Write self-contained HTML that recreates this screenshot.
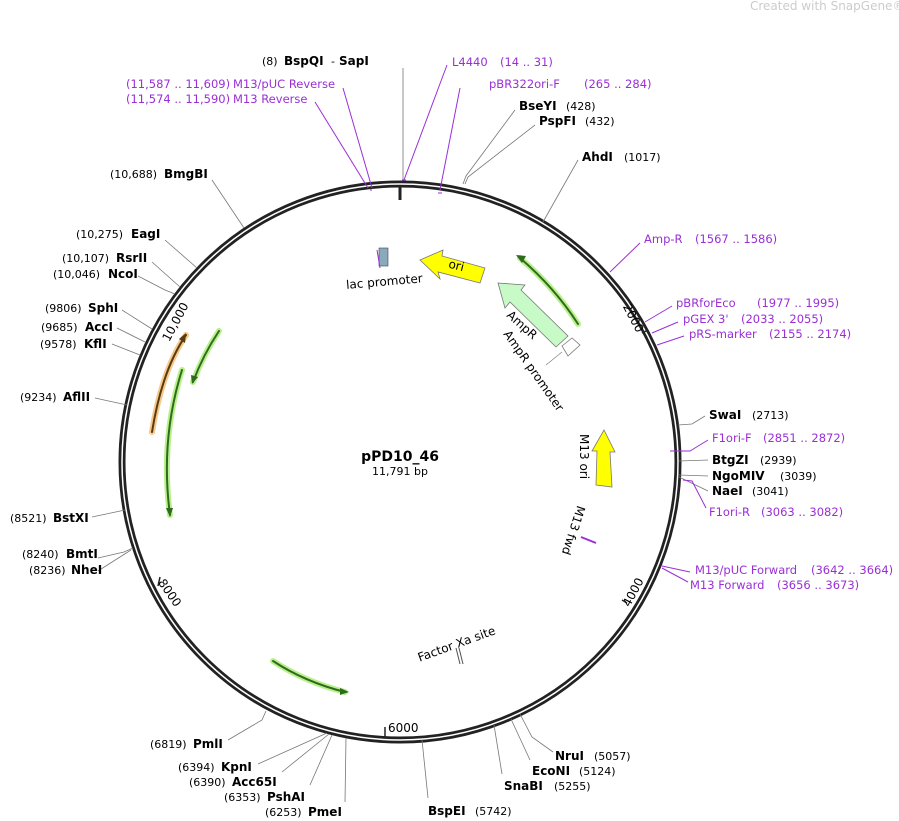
<!DOCTYPE html>
<html><head><meta charset="utf-8"><style>
html,body{margin:0;padding:0;background:#fff;}
svg{display:block;font-family:"DejaVu Sans","Liberation Sans",sans-serif;}
.b{font-weight:bold;font-size:12px;fill:#000}
.n{font-size:11px;fill:#000}
.p{font-size:11.5px;fill:#9a2fd6}
.l{stroke:#777;stroke-width:0.8;fill:none}
.lp{stroke:#9a2fd6;stroke-width:1;fill:none}
</style></head><body>
<svg width="899" height="821" viewBox="0 0 899 821" xmlns="http://www.w3.org/2000/svg">
<text x="750" y="10" font-size="12" fill="#ccc">Created with SnapGene®</text>
<circle cx="400" cy="462" r="278" fill="none" stroke="#222" stroke-width="7"/>
<circle cx="400" cy="462" r="278" fill="none" stroke="#fff" stroke-width="1.5"/>
<line x1="400" y1="186" x2="400" y2="200" stroke="#222" stroke-width="3"/>
<line x1="648" y1="330" x2="642" y2="333" stroke="#222" stroke-width="1.5"/>
<text x="612" y="312" font-size="12" transform="rotate(62 622 318)">2000</text>
<line x1="627" y1="603" x2="622" y2="600" stroke="#222" stroke-width="1.5"/>
<text x="622" y="605" font-size="12" transform="rotate(-62 628 600)">4000</text>
<line x1="385" y1="727" x2="385" y2="738" stroke="#222" stroke-width="1.5"/>
<text x="388" y="732" font-size="12">6000</text>
<line x1="160" y1="577" x2="158" y2="586" stroke="#222" stroke-width="1.5"/>
<text x="160" y="586" font-size="12" transform="rotate(55 162 582)">8000</text>
<text x="163" y="340" font-size="12" transform="rotate(-62 168 336)">10,000</text>
<text x="400" y="461" text-anchor="middle" font-weight="bold" font-size="14">pPD10_46</text>
<text x="400" y="475" text-anchor="middle" font-size="11">11,791 bp</text>
<g stroke-linecap="round">
<path d="M578 324 Q555 288 520 258" stroke="#b9f08a" stroke-width="6" fill="none"/>
<path d="M578 324 Q555 288 520 258" stroke="#2e6b1e" stroke-width="2" fill="none"/>
<path d="M516 255 l10 1 l-4 7z" fill="#2e6b1e"/>
<path d="M152 432 Q162 370 186 335" stroke="#f5c98a" stroke-width="6" fill="none"/>
<path d="M152 432 Q162 370 186 335" stroke="#5a3a10" stroke-width="2" fill="none"/>
<path d="M186 333 l-1 10 l-6 -4z" fill="#5a3a10"/>
<path d="M182 370 Q160 440 170 515" stroke="#b9f08a" stroke-width="6" fill="none"/>
<path d="M182 370 Q160 440 170 515" stroke="#2e6b1e" stroke-width="2" fill="none"/>
<path d="M170 517 l-4 -9 l7 0z" fill="#2e6b1e"/>
<path d="M219 331 Q203 355 193 382" stroke="#b9f08a" stroke-width="6" fill="none"/>
<path d="M219 331 Q203 355 193 382" stroke="#2e6b1e" stroke-width="2" fill="none"/>
<path d="M192 384 l-1 -9 l7 2z" fill="#2e6b1e"/>
<path d="M273 661 Q305 682 345 692" stroke="#b9f08a" stroke-width="6" fill="none"/>
<path d="M273 661 Q305 682 345 692" stroke="#2e6b1e" stroke-width="2" fill="none"/>
<path d="M349 692 l-9 -4 l0 7z" fill="#2e6b1e"/>
</g>
<polygon points="420,260 443,250 442,256 485,268 480,283 438,272 440,279" fill="#ffff00" stroke="#777" stroke-width="0.8"/>
<text x="448" y="270" font-size="12" transform="rotate(14 458 268)">ori</text>
<polygon points="498,283 525,285 521,290 568,336 556,347 510,302 505,308" fill="#c8fac8" stroke="#777" stroke-width="0.8"/>
<polygon points="562,346 572,338 580,345 568,356" fill="#fff" stroke="#777" stroke-width="0.8"/>
<polygon points="604,430 615,452 610,452 612,487 596,485 597,451 592,451" fill="#ffff00" stroke="#777" stroke-width="0.8"/>
<text x="506" y="316" font-size="12" transform="rotate(42 506 316)">AmpR</text>
<text x="503" y="334" font-size="12" transform="rotate(55 503 334)">AmpR promoter</text>
<line x1="546" y1="365" x2="562" y2="352" stroke="#777" stroke-width="0.6"/>
<text x="580" y="434" font-size="12" transform="rotate(90 580 434)">M13 ori</text>
<text x="580" y="503" font-size="12" transform="rotate(108 578 503)">M13 fwd</text>
<line x1="581" y1="537" x2="596" y2="543" stroke="#9a2fd6" stroke-width="2"/>
<rect x="379" y="248" width="9" height="18" fill="#8ab" stroke="#445" stroke-width="0.6"/>
<line x1="377" y1="250" x2="380" y2="268" stroke="#9a2fd6" stroke-width="1"/>
<text x="346" y="286" font-size="12" transform="rotate(-5 380 282)">lac promoter</text>
<text x="414" y="650" font-size="12" transform="rotate(-20 450 640)">Factor Xa site</text>
<line x1="456" y1="648" x2="460" y2="664" stroke="#555" stroke-width="1"/>
<line x1="459" y1="648" x2="463" y2="664" stroke="#555" stroke-width="1"/>
<line class="l" x1="403" y1="180" x2="403" y2="68"/>
<text x="262" y="65" class="n">(8)</text><text x="284" y="65" class="b">BspQI</text><text x="331" y="65" class="n">-</text><text x="339" y="65" class="b">SapI</text>
<line class="lp" x1="404" y1="180" x2="447" y2="65"/><line class="lp" x1="402" y1="180" x2="406" y2="180"/>
<text x="452" y="66" class="p">L4440</text><text x="500" y="66" class="p" font-size="11">(14 .. 31)</text>
<line class="lp" x1="440" y1="190" x2="460" y2="88"/><line class="lp" x1="438" y1="193" x2="442" y2="193"/>
<text x="489" y="88" class="p">pBR322ori-F</text><text x="584" y="88" class="p" font-size="11">(265 .. 284)</text>
<line class="lp" x1="372" y1="188" x2="343" y2="88"/><line class="lp" x1="370" y1="190" x2="372" y2="190"/>
<line class="lp" x1="368" y1="188" x2="315" y2="102"/>
<text x="126" y="88" class="p" font-size="11">(11,587 .. 11,609)</text><text x="233" y="88" class="p">M13/pUC Reverse</text>
<text x="126" y="103" class="p" font-size="11">(11,574 .. 11,590)</text><text x="233" y="103" class="p">M13 Reverse</text>
<polyline class="l" points="463,184 466,176 515,110"/><polyline class="l" points="465,184 468,177 535,125"/>
<text x="519" y="110" class="b">BseYI</text><text x="566" y="110" class="n">(428)</text>
<text x="539" y="125" class="b">PspFI</text><text x="585" y="125" class="n">(432)</text>
<line class="l" x1="543" y1="222" x2="578" y2="160"/>
<text x="582" y="161" class="b">AhdI</text><text x="624" y="161" class="n">(1017)</text>
<line class="lp" x1="610" y1="272" x2="640" y2="243"/>
<text x="644" y="243" class="p">Amp-R</text><text x="695" y="243" class="p" font-size="11">(1567 .. 1586)</text>
<line class="lp" x1="645" y1="322" x2="672" y2="306"/><line class="lp" x1="652" y1="333" x2="678" y2="322"/><line class="lp" x1="657" y1="345" x2="684" y2="336"/>
<text x="676" y="307" class="p">pBRforEco</text><text x="757" y="307" class="p" font-size="11">(1977 .. 1995)</text>
<text x="683" y="323" class="p">pGEX 3'</text><text x="741" y="323" class="p" font-size="11">(2033 .. 2055)</text>
<text x="689" y="338" class="p">pRS-marker</text><text x="769" y="338" class="p" font-size="11">(2155 .. 2174)</text>
<polyline class="l" points="678,425 692,424 705,416"/>
<text x="709" y="419" class="b">SwaI</text><text x="752" y="419" class="n">(2713)</text>
<polyline class="lp" points="670,451 690,451 708,440"/>
<text x="712" y="442" class="p">F1ori-F</text><text x="763" y="442" class="p" font-size="11">(2851 .. 2872)</text>
<polyline class="l" points="679,461 708,460"/>
<text x="712" y="464" class="b">BtgZI</text><text x="760" y="464" class="n">(2939)</text>
<polyline class="l" points="679,475 708,476"/><polyline class="l" points="679,477 708,491"/>
<text x="712" y="480" class="b">NgoMIV</text><text x="780" y="480" class="n">(3039)</text>
<text x="712" y="495" class="b">NaeI</text><text x="752" y="495" class="n">(3041)</text>
<polyline class="lp" points="683,480 692,481 706,508"/>
<text x="709" y="516" class="p">F1ori-R</text><text x="761" y="516" class="p" font-size="11">(3063 .. 3082)</text>
<line class="lp" x1="662" y1="566" x2="690" y2="572"/><line class="lp" x1="662" y1="568" x2="688" y2="582"/>
<text x="695" y="574" class="p">M13/pUC Forward</text><text x="811" y="574" class="p" font-size="11">(3642 .. 3664)</text>
<text x="690" y="589" class="p">M13 Forward</text><text x="777" y="589" class="p" font-size="11">(3656 .. 3673)</text>
<polyline class="l" points="520,714 532,737 553,752"/>
<text x="555" y="760" class="b">NruI</text><text x="594" y="760" class="n">(5057)</text>
<polyline class="l" points="511,719 530,760"/>
<text x="532" y="775" class="b">EcoNI</text><text x="579" y="775" class="n">(5124)</text>
<polyline class="l" points="494,725 502,774"/>
<text x="504" y="790" class="b">SnaBI</text><text x="554" y="790" class="n">(5255)</text>
<polyline class="l" points="422,740 428,798"/>
<text x="428" y="815" class="b">BspEI</text><text x="475" y="815" class="n">(5742)</text>
<polyline class="l" points="346,738 345,802"/>
<text x="265" y="816" class="n">(6253)</text><text x="308" y="816" class="b">PmeI</text>
<polyline class="l" points="332,735 310,785"/>
<text x="224" y="801" class="n">(6353)</text><text x="267" y="801" class="b">PshAI</text>
<polyline class="l" points="329,734 282,772"/><polyline class="l" points="327,733 258,764"/>
<text x="189" y="786" class="n">(6390)</text><text x="232" y="786" class="b">Acc65I</text>
<text x="178" y="771" class="n">(6394)</text><text x="221" y="771" class="b">KpnI</text>
<polyline class="l" points="266,711 262,720 228,740"/>
<text x="150" y="748" class="n">(6819)</text><text x="193" y="748" class="b">PmlI</text>
<polyline class="l" points="133,548 124,552 98,558"/><polyline class="l" points="131,550 98,571"/>
<text x="22" y="558" class="n">(8240)</text><text x="66" y="558" class="b">BmtI</text>
<text x="29" y="574" class="n">(8236)</text><text x="71" y="574" class="b">NheI</text>
<line class="l" x1="125" y1="510" x2="92" y2="517"/>
<text x="10" y="522" class="n">(8521)</text><text x="53" y="522" class="b">BstXI</text>
<line class="l" x1="127" y1="405" x2="95" y2="398"/>
<text x="20" y="401" class="n">(9234)</text><text x="63" y="401" class="b">AflII</text>
<line class="l" x1="140" y1="355" x2="112" y2="344"/><line class="l" x1="145" y1="342" x2="117" y2="328"/><line class="l" x1="152" y1="329" x2="122" y2="310"/>
<text x="40" y="348" class="n">(9578)</text><text x="84" y="348" class="b">KflI</text>
<text x="41" y="331" class="n">(9685)</text><text x="85" y="331" class="b">AccI</text>
<text x="45" y="312" class="n">(9806)</text><text x="88" y="312" class="b">SphI</text>
<polyline class="l" points="175,294 165,290 138,276"/><polyline class="l" points="180,287 152,262"/><polyline class="l" points="197,268 165,240"/><polyline class="l" points="244,228 212,180"/>
<text x="53" y="278" class="n">(10,046)</text><text x="108" y="278" class="b">NcoI</text>
<text x="62" y="262" class="n">(10,107)</text><text x="116" y="262" class="b">RsrII</text>
<text x="76" y="238" class="n">(10,275)</text><text x="131" y="238" class="b">EagI</text>
<text x="110" y="178" class="n">(10,688)</text><text x="164" y="178" class="b">BmgBI</text>
</svg>
</body></html>
